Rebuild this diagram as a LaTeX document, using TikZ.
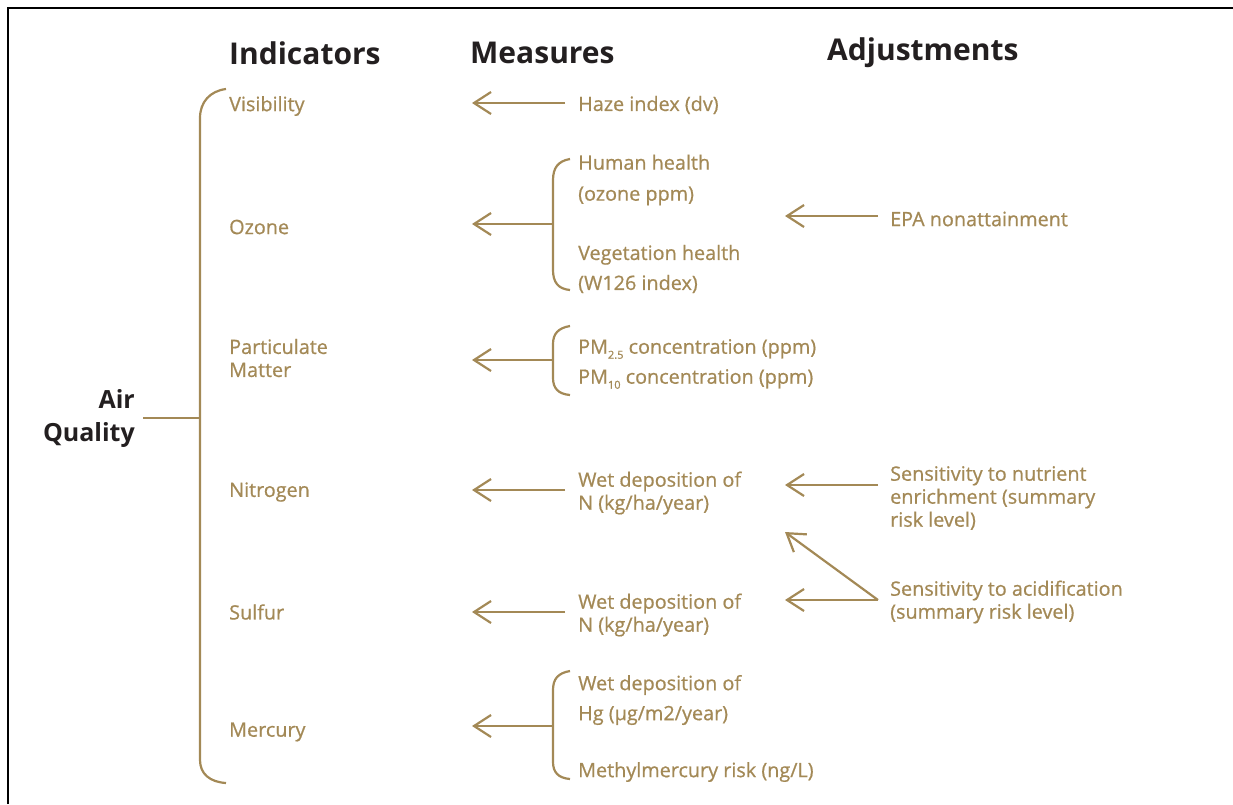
\documentclass[tikz,border=0pt]{standalone}
\usepackage{fontspec}
\setmainfont{Open Sans}
\newfontface\medface{Open Sans}[FakeBold=0.7]
\usetikzlibrary{arrows.meta}
\definecolor{gold}{RGB}{163,137,86}
\definecolor{ink}{RGB}{35,31,32}
\newcommand{\subsc}[1]{\raisebox{-5pt}{\fontsize{11}{11}\selectfont #1}}
\begin{document}
\begin{tikzpicture}[x=1pt,y=-1pt,
  lbl/.style={text=gold, anchor=west, inner sep=0pt, align=left, font=\medface\fontsize{19.8}{23}\selectfont},
  head/.style={text=ink, anchor=west, inner sep=0pt, font=\bfseries\fontsize{30}{34}\selectfont},
  conn/.style={draw=gold, line width=2.2pt},
  arr/.style={conn, -{Straight Barb[length=17pt,width=22pt]}},
  frame/.style={draw=black, line width=2.6pt}
]
\useasboundingbox (0,0) rectangle (1233,804);
% frame
\draw[frame] (8,804) -- (8,8) -- (1233,8);

% headers
\node[head] (hInd) at (229,53) {Indicators};
\node[head] (hMea) at (470,53) {Measures};
\node[head] (hAdj) at (827,53) {Adjustments};

% root
\node[text=ink, anchor=east, inner sep=0pt, align=right, font=\bfseries\fontsize{25}{33}\selectfont] (aq) at (135,418) {Air\\Quality};
\coordinate (spine) at (200,418);
\draw[conn] ([xshift=8pt]aq.east) -- (aq.east -| spine);
\draw[conn] (226,89) .. controls (210,91) and (200,102) .. (200,118) -- (200,760) .. controls (200,774) and (210,782) .. (226,783);

% indicators
\node[lbl] (vis) at (229,106) {Visibility};
\node[lbl] (ozo) at (229,227) {Ozone};
\node[lbl] (pm) at (229,358) {Particulate\\Matter};
\node[lbl] (nit) at (229,492) {Nitrogen};
\node[lbl] (sul) at (229,612) {Sulfur};
\node[lbl] (mer) at (229,732) {Mercury};

% measures
\coordinate (colM) at (472,0);
\node[lbl] (haze) at (578,105) {Haze index (dv)};
\coordinate (aHaze) at (565,103);
\draw[arr] (aHaze) -- (aHaze -| colM);

\node[lbl, font=\medface\fontsize{19.8}{31}\selectfont] (human) at (578,180) {Human health\\(ozone ppm)};
\node[lbl, font=\medface\fontsize{19.8}{30}\selectfont] (veg) at (578,269) {Vegetation health\\(W126 index)};
\draw[conn] (570,159) .. controls (558,161) and (553,168) .. (553,180) -- (553,270) .. controls (553,282) and (558,289) .. (570,290);
\coordinate (bOzo) at (553,224);
\draw[arr] (bOzo) -- (bOzo -| colM);

\node[lbl, font=\medface\fontsize{19.8}{30}\selectfont] (pmc) at (578,364) {PM\subsc{2.5} concentration (ppm)\\PM\subsc{10} concentration (ppm)};
\draw[conn] (570,326) .. controls (558,328) and (553,334) .. (553,344) -- (553,378) .. controls (553,388) and (558,394) .. (570,395);
\coordinate (bPm) at (553,360);
\draw[arr] (bPm) -- (bPm -| colM);

\node[lbl] (wetN) at (578,493) {Wet deposition of\\N (kg/ha/year)};
\coordinate (aNit) at (565,490);
\draw[arr] (aNit) -- (aNit -| colM);

\node[lbl] (wetS) at (578,615) {Wet deposition of\\N (kg/ha/year)};
\coordinate (aSul) at (565,612);
\draw[arr] (aSul) -- (aSul -| colM);

\node[lbl, font=\medface\fontsize{19.8}{30}\selectfont] (hg) at (578,700) {Wet deposition of\\Hg (µg/m2/year)};
\node[lbl] (mehg) at (578,772) {Methylmercury risk (ng/L)};
\draw[conn] (570,671) .. controls (558,673) and (553,679) .. (553,690) -- (553,762) .. controls (553,772) and (558,778) .. (570,779);
\coordinate (bMer) at (553,726);
\draw[arr] (bMer) -- (bMer -| colM);

% adjustments
\coordinate (colA) at (785,0);
\node[lbl] (epa) at (890,219) {EPA nonattainment};
\coordinate (aEpa) at (878,216);
\draw[arr] (aEpa) -- (aEpa -| colA);

\node[lbl] (nutr) at (890,498) {Sensitivity to nutrient\\enrichment (summary\\risk level)};
\coordinate (aNutr) at (878,485);
\draw[arr] (aNutr) -- (aNutr -| colA);

\node[lbl] (acid) at (890,602) {Sensitivity to acidification\\(summary risk level)};
\coordinate (aAcid) at (878,600);
\coordinate (tDiag) at (785,532);
\draw[arr] (aAcid) -- (aAcid -| colA);
\draw[arr] (aAcid) -- (tDiag);
\end{tikzpicture}
\end{document}
